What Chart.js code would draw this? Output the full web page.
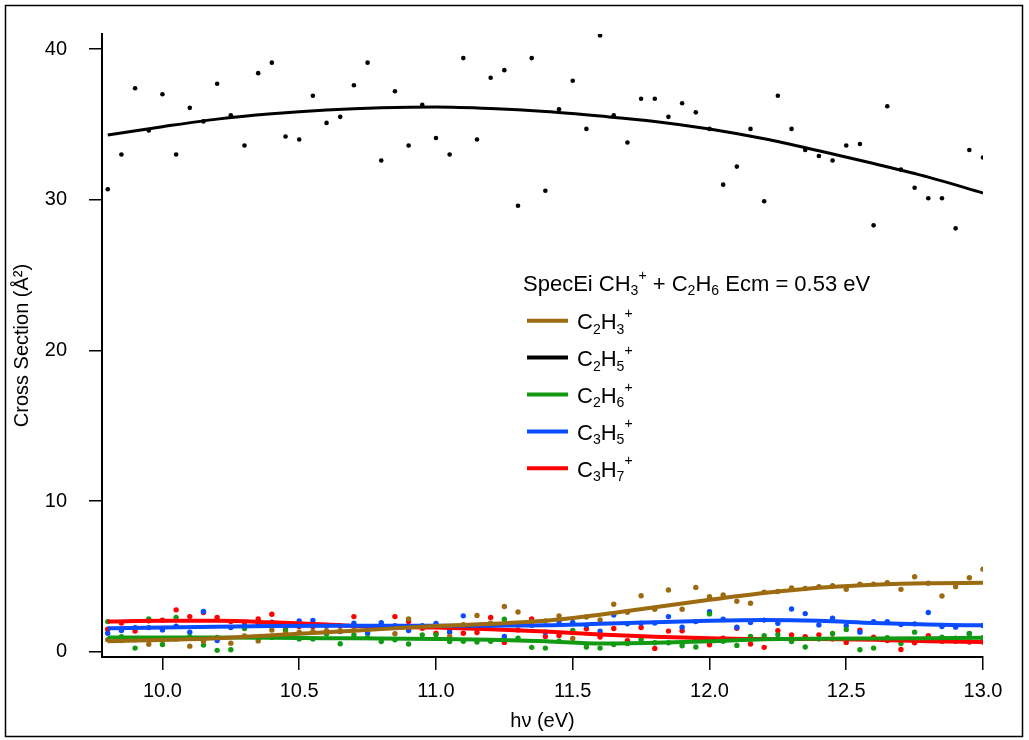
<!DOCTYPE html>
<html>
<head>
<meta charset="utf-8">
<script src="https://cdn.jsdelivr.net/npm/chart.js@4.4.1/dist/chart.umd.min.js"></script>
<style>
  body { margin: 0; background: #fff; }
  #wrap { width: 1029px; height: 740px; }
</style>
</head>
<body>
<div id="wrap"><canvas id="myChart" width="1029" height="740"></canvas></div>
<script>
// photon energy grid (eV)
const xVals = [9.80, 9.85, 9.90, 9.95, 10.00, 10.05, 10.10, 10.15, 10.20, 10.25, 10.30, 10.35, 10.40,
  10.45, 10.50, 10.55, 10.60, 10.65, 10.70, 10.75, 10.80, 10.85, 10.90, 10.95, 11.00, 11.05, 11.10,
  11.15, 11.20, 11.25, 11.30, 11.35, 11.40, 11.45, 11.50, 11.55, 11.60, 11.65, 11.70, 11.75, 11.80,
  11.85, 11.90, 11.95, 12.00, 12.05, 12.10, 12.15, 12.20, 12.25, 12.30, 12.35, 12.40, 12.45, 12.50,
  12.55, 12.60, 12.65, 12.70, 12.75, 12.80, 12.85, 12.90, 12.95, 13.00];

// measured cross sections
const c2h5 = [30.7, 33.0, 37.4, 34.6, 37.0, 33.0, 36.1, 35.2, 37.7, 35.6, 33.6, 38.4, 39.1,
  34.2, 34.0, 36.9, 35.1, 35.5, 37.6, 39.1, 32.6, 37.2, 33.6, 36.3, 34.1, 33.0, 39.4,
  34.0, 38.1, 38.6, 29.6, 39.4, 30.6, 36.0, 37.9, 34.7, 40.9, 35.6, 33.8, 36.7, 36.7,
  35.5, 36.4, 35.8, 34.7, 31.0, 32.2, 34.7, 29.9, 36.9, 34.7, 33.3, 32.9, 32.6, 33.6,
  33.7, 28.3, 36.2, 32.0, 30.8, 30.1, 30.1, 28.1, 33.3, 32.8];
const c2h3 = [0.8, 0.75, 0.8, 0.5, 0.8, 0.85, 0.37, 0.7, 0.95, 0.57, 1.05, 0.72, 1.44,
  1.2, 1.3, 1.35, 1.39, 1.4, 1.45, 1.5, 1.55, 1.19, 2.18, 1.65, 1.7, 1.01, 1.8,
  2.4, 1.9, 3.0, 2.64, 2.0, 2.05, 2.38, 0.88, 2.3, 2.11, 3.15, 2.62, 3.72, 2.82,
  4.1, 2.82, 4.27, 3.65, 3.77, 3.35, 3.22, 3.95, 4.0, 4.23, 4.2, 4.32, 4.38, 4.14,
  4.49, 4.49, 4.58, 4.14, 4.98, 4.55, 3.7, 4.32, 4.91, 5.48];
const c2h6 = [2.0, 1.0, 0.24, 2.18, 0.48, 2.27, 1.0, 0.44, 0.09, 0.13, 1.54, 0.9, 0.95,
  1.41, 0.85, 0.84, 1.17, 0.53, 1.12, 0.95, 0.68, 0.79, 0.51, 1.12, 1.12, 0.68, 0.7,
  0.64, 0.7, 2.16, 0.9, 0.29, 0.24, 0.7, 1.41, 0.31, 0.24, 0.48, 0.55, 0.81, 0.6,
  0.6, 0.4, 0.31, 2.51, 0.7, 0.42, 1.01, 1.06, 1.12, 0.68, 0.31, 0.85, 1.21, 1.48,
  0.13, 0.24, 0.93, 0.55, 1.3, 0.9, 0.97, 0.9, 1.21, 0.93];
const c3h5 = [1.23, 1.41, 1.6, 1.6, 1.45, 1.7, 1.3, 2.67, 0.74, 1.6, 1.7, 1.8, 1.96,
  1.7, 2.05, 2.07, 1.72, 1.34, 1.89, 1.23, 1.92, 1.72, 1.41, 1.72, 1.87, 1.3, 2.38,
  1.75, 1.75, 1.01, 1.8, 1.75, 1.3, 2.0, 1.94, 1.75, 1.37, 2.44, 1.85, 1.9, 1.9,
  2.33, 1.63, 2.0, 2.66, 2.16, 1.63, 1.94, 2.1, 1.89, 2.84, 2.53, 1.78, 2.22, 1.72,
  1.3, 2.0, 2.0, 1.8, 1.85, 2.6, 1.67, 1.63, 1.2, 1.74];
const c3h7 = [1.5, 1.9, 1.37, 2.05, 2.1, 2.78, 2.33, 2.6, 2.27, 2.0, 1.95, 2.18, 2.49,
  1.56, 1.67, 1.67, 1.74, 1.7, 2.33, 1.65, 1.6, 2.33, 2.0, 1.55, 1.23, 1.5, 1.23,
  1.28, 2.27, 0.62, 1.45, 2.18, 1.01, 1.08, 1.3, 1.52, 0.97, 1.54, 0.73, 1.61, 0.22,
  1.37, 1.39, 0.84, 0.46, 0.9, 1.56, 0.51, 0.29, 1.39, 1.12, 0.99, 1.12, 0.85, 0.62,
  1.43, 0.97, 0.75, 0.15, 0.6, 1.06, 0.7, 0.7, 0.65, 0.65];

// fitted curves
const fitX = [9.8, 10.0, 10.2, 10.4, 10.6, 10.8, 11.0, 11.2, 11.4, 11.6, 11.8, 12.0, 12.2, 12.4, 12.6, 12.8, 13.0];
const fitC2H5 = [34.3, 34.85, 35.35, 35.7, 35.95, 36.1, 36.15, 36.05, 35.85, 35.55, 35.2, 34.7, 34.05, 33.25, 32.4, 31.5, 30.45];
const fitC2H3 = [0.7, 0.78, 0.9, 1.1, 1.3, 1.5, 1.7, 1.85, 2.05, 2.45, 2.95, 3.45, 3.9, 4.25, 4.45, 4.55, 4.57];
const fitC2H6 = [0.95, 0.95, 0.95, 0.93, 0.9, 0.88, 0.85, 0.8, 0.7, 0.55, 0.6, 0.7, 0.82, 0.86, 0.88, 0.9, 0.92];
const fitC3H5 = [1.55, 1.6, 1.65, 1.7, 1.72, 1.72, 1.72, 1.73, 1.75, 1.85, 1.95, 2.05, 2.1, 2.05, 1.9, 1.8, 1.75];
const fitC3H7 = [2.0, 2.05, 2.05, 1.95, 1.8, 1.65, 1.6, 1.5, 1.35, 1.15, 1.0, 0.9, 0.85, 0.85, 0.8, 0.7, 0.65];

const xTicks = [10.0, 10.5, 11.0, 11.5, 12.0, 12.5, 13.0];
const yTicks = [0, 10, 20, 30, 40];

const names = ['C_2H_3^+', 'C_2H_5^+', 'C_2H_6^+', 'C_3H_5^+', 'C_3H_7^+'];
const colors = ['#9c6a10', '#000000', '#139a13', '#0a4cff', '#ff0000'];
const legendTitle = 'SpecEi CH_3^+ + C_2H_6 Ecm = 0.53 eV';

const FONT = '"Liberation Sans", Arial, sans-serif';

function pts(xs, ys) { return xs.map((x, i) => ({x: x, y: ys[i]})); }

function scatterSet(ys, col, r) {
  return {type: 'scatter', data: pts(xVals, ys), backgroundColor: col, borderWidth: 0,
    pointRadius: r, pointHoverRadius: r, order: 10};
}
function fitSet(ys, col, w) {
  return {type: 'line', data: pts(fitX, ys), borderColor: col, borderWidth: w, pointRadius: 0,
    cubicInterpolationMode: 'monotone', fill: false, order: 1};
}

// draws text with _x subscripts and ^x superscripts
function richText(ctx, str, x, y, size) {
  let i = 0;
  while (i < str.length) {
    let ch = str[i], fs = size, dy = 0;
    if (ch === '_' || ch === '^') {
      fs = size * 0.64;
      dy = ch === '_' ? size * 0.2 : -size * 0.52;
      i++; ch = str[i];
    }
    ctx.font = fs + 'px ' + FONT;
    ctx.fillText(ch, x, y + dy);
    x += ctx.measureText(ch).width;
    i++;
  }
}

const legendPlugin = {
  id: 'igorLegend',
  afterDraw(chart) {
    const ctx = chart.ctx;
    ctx.save();
    ctx.fillStyle = '#000';
    ctx.textBaseline = 'alphabetic';
    ctx.textAlign = 'left';
    richText(ctx, legendTitle, 523, 291, 22);
    names.forEach((n, k) => {
      const ly = 320.7 + k * 36.9;
      ctx.strokeStyle = colors[k];
      ctx.lineWidth = 4;
      ctx.beginPath();
      ctx.moveTo(527, ly);
      ctx.lineTo(568, ly);
      ctx.stroke();
      ctx.fillStyle = '#000';
      richText(ctx, n, 577, ly + 8.5, 22);
    });
    // outer frame
    ctx.strokeStyle = '#000';
    ctx.lineWidth = 1.5;
    ctx.strokeRect(5.5, 5.5, 1017, 731);
    ctx.restore();
  }
};

var canvas = document.getElementById('myChart').getContext('2d');
var myChart = new Chart(canvas, {
  data: {
    datasets: [
      fitSet(fitC2H3, colors[0], 4),
      fitSet(fitC2H5, colors[1], 3),
      fitSet(fitC2H6, colors[2], 4),
      fitSet(fitC3H5, colors[3], 4),
      fitSet(fitC3H7, colors[4], 4),
      scatterSet(c2h3, colors[0], 2.7),
      scatterSet(c2h5, colors[1], 2.3),
      scatterSet(c2h6, colors[2], 2.7),
      scatterSet(c3h5, colors[3], 2.7),
      scatterSet(c3h7, colors[4], 2.7),
    ]
  },
  options: {
    responsive: false,
    animation: false,
    layout: {padding: {left: 0, right: 46, top: 32, bottom: 0}},
    plugins: {legend: {display: false}, tooltip: {enabled: false}},
    scales: {
      x: {
        type: 'linear', min: 9.779, max: 13.0,
        afterBuildTicks: s => { s.ticks = xTicks.map(v => ({value: v})); },
        afterFit: s => { s.height = 83; },
        ticks: {callback: v => v.toFixed(1), color: '#000', font: {size: 20, family: FONT},
          padding: 9, maxRotation: 0, autoSkip: false},
        grid: {drawOnChartArea: false, drawTicks: true, tickLength: 13, color: '#000', lineWidth: 1.5},
        border: {display: true, color: '#000', width: 2},
        title: {display: true, text: 'hν (eV)', color: '#000', font: {size: 20, family: FONT},
          padding: {top: 0, bottom: 7}}
      },
      y: {
        type: 'linear', min: -0.35, max: 41.0,
        afterBuildTicks: s => { s.ticks = yTicks.map(v => ({value: v})); },
        afterFit: s => { s.width = 102; },
        ticks: {color: '#000', font: {size: 20, family: FONT}, padding: 22},
        grid: {drawOnChartArea: false, drawTicks: true, tickLength: 13, color: '#000', lineWidth: 1.5},
        border: {display: true, color: '#000', width: 2},
        title: {display: true, text: 'Cross Section (Å²)', color: '#000', font: {size: 20, family: FONT},
          padding: {top: 10, bottom: 0}}
      }
    }
  },
  plugins: [legendPlugin]
});
</script>
</body>
</html>
